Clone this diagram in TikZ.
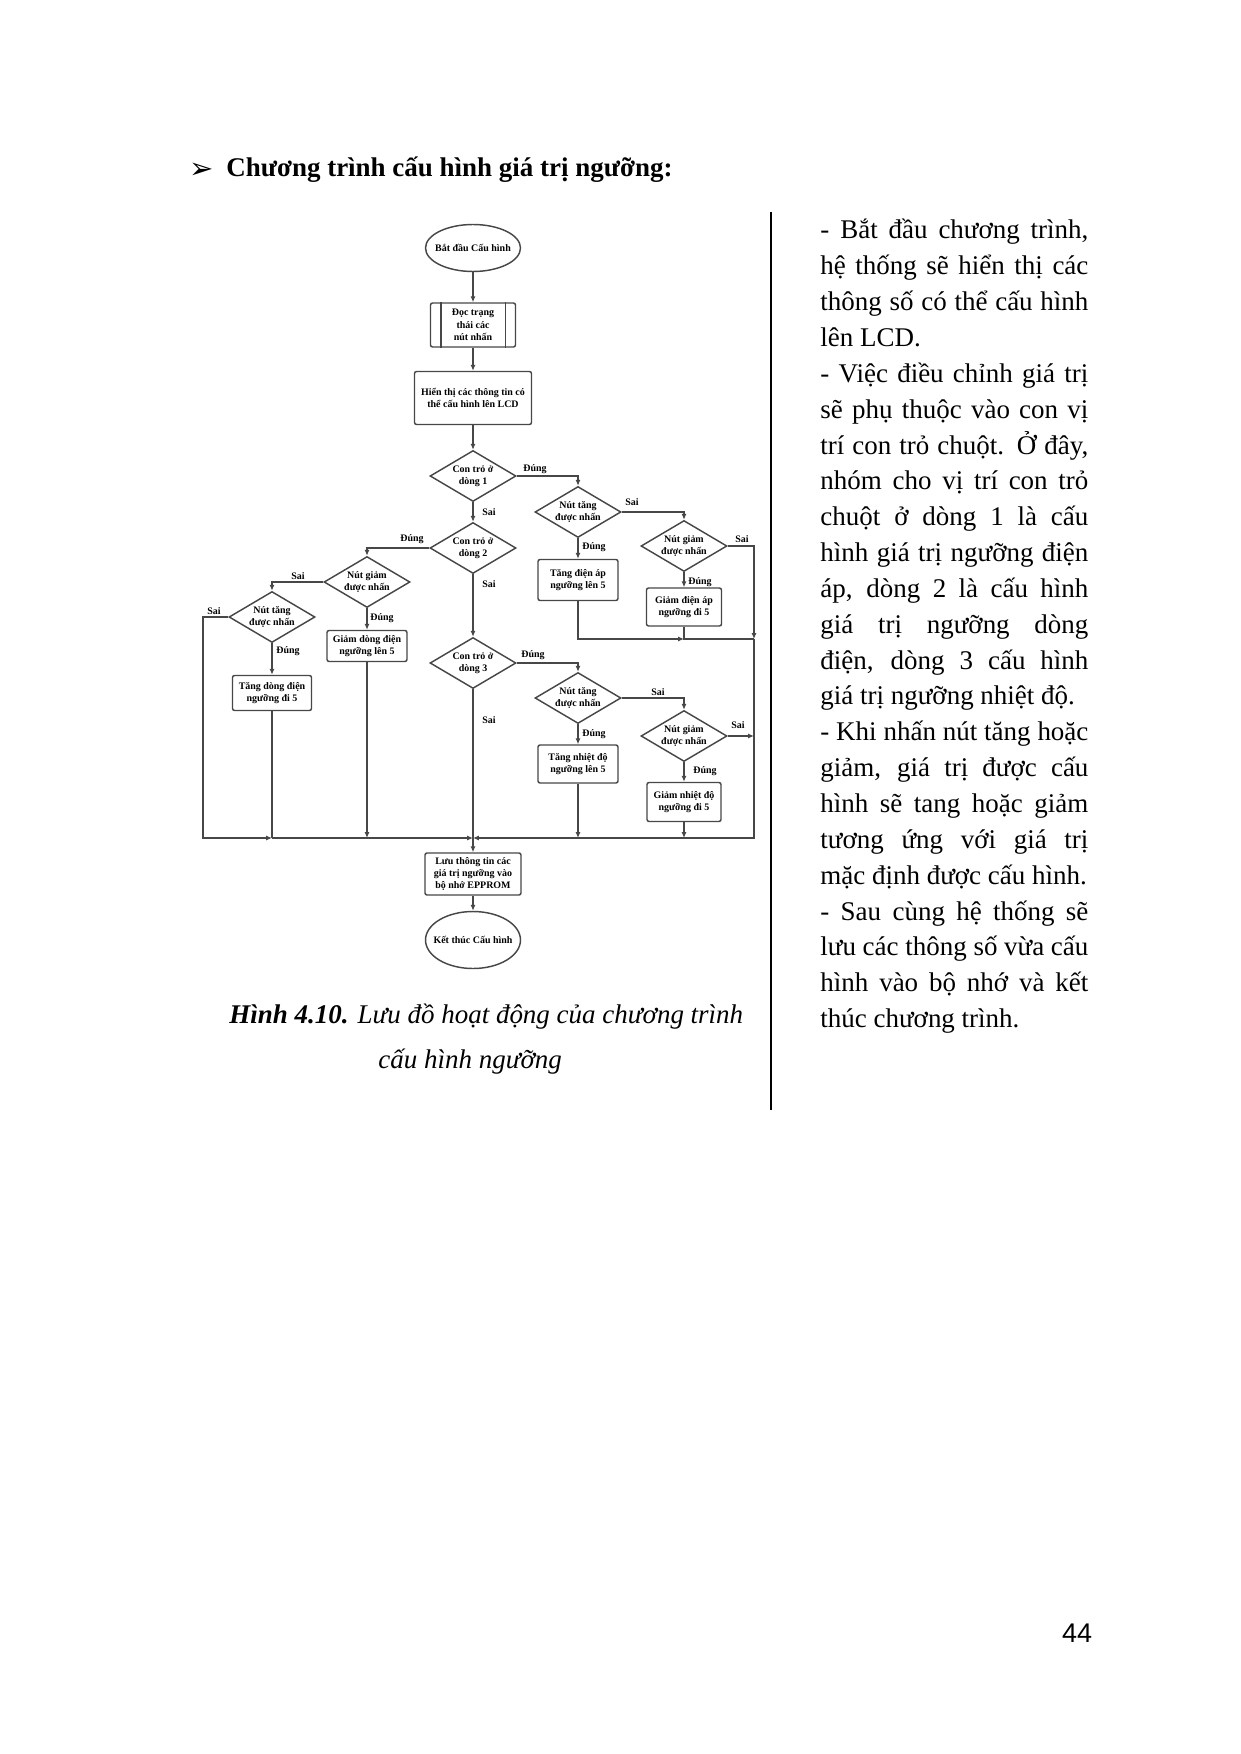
\documentclass[tikz,border=0pt]{standalone}
\usepackage{fontspec}
\setmainfont{Liberation Serif}
\newfontfamily\symfont{DejaVu Sans}
\newfontfamily\numfont{Liberation Sans}
\usetikzlibrary{arrows.meta,shapes.geometric}
\newlength\pxu
\setlength\pxu{0.4818pt}

\begin{document}
\begin{tikzpicture}[x=0.4818pt,y=-0.4818pt,>={Latex[length=2.8pt,width=2.4pt]}]
  \tikzstyle{fc}=[font=\fontsize{4.8}{6}\selectfont\bfseries,align=center,draw=black!72,line width=0.7pt]
  \tikzstyle{term}=[fc,ellipse,inner xsep=-4pt,inner ysep=0pt,minimum width=95\pxu,minimum height=47\pxu]
  \tikzstyle{proc}=[fc,rectangle,rounded corners=1pt,inner sep=1pt]
  \tikzstyle{dec}=[fc,diamond,shape aspect=1.7,inner sep=0pt,minimum width=86\pxu,minimum height=51\pxu]
  \tikzstyle{lbl}=[font=\fontsize{4.8}{6}\selectfont\bfseries,inner sep=0pt]
  \tikzstyle{wire}=[draw=black!72,line width=0.7pt]
  \useasboundingbox (0,0) rectangle (1240,1754);

  % heading and page text
  \node[inner sep=0pt,font=\symfont\fontsize{14}{16}\selectfont] (bul) at (202,171) {➢};
  \node[anchor=base west,inner sep=0pt,font=\fontsize{13}{16}\selectfont\bfseries] (ttl) at (226,177) {Chương trình cấu hình giá trị ngưỡng:};
  \draw[line width=1.1pt] (771,212) -- (771,1110);
  \node[anchor=base west,inner sep=0pt,text width=268\pxu,align=justify,font=\fontsize{13}{17.27}\selectfont] (txt) at (820,239) {\parindent=0pt\tolerance=10000\hyphenpenalty=10000
    - Bắt đầu chương trình,\linebreak hệ thống sẽ hiển thị các\linebreak thông số có thể cấu hình\linebreak lên LCD.\par
    - Việc điều chỉnh giá trị\linebreak sẽ phụ thuộc vào con vị\linebreak trí con trỏ chuột. Ở đây,\linebreak nhóm cho vị trí con trỏ\linebreak chuột ở dòng 1 là cấu\linebreak hình giá trị ngưỡng điện\linebreak áp, dòng 2 là cấu hình\linebreak giá trị ngưỡng dòng\linebreak điện, dòng 3 cấu hình\linebreak giá trị ngưỡng nhiệt độ.\par
    - Khi nhấn nút tăng hoặc\linebreak giảm, giá trị được cấu\linebreak hình sẽ tang hoặc giảm\linebreak tương ứng với giá trị\linebreak mặc định được cấu hình.\par
    - Sau cùng hệ thống sẽ\linebreak lưu các thông số vừa cấu\linebreak hình vào bộ nhớ và kết\linebreak thúc chương trình.\par};
  \node[anchor=base west,inner sep=0pt,font=\fontsize{13}{16}\selectfont\itshape] (cap1) at (229,1023) {\textbf{Hình 4.10.} Lưu đồ hoạt động của chương trình};
  \node[anchor=base west,inner sep=0pt,font=\fontsize{13}{16}\selectfont\itshape] (cap2) at (378,1068) {cấu hình ngưỡng};
  \node[inner sep=0pt,font=\numfont\fontsize{13}{16}\selectfont] (pg) at (1077,1633) {44};

  % main column
  \node[term] (st) at (473,248) {Bắt đầu Cấu hình};
  \node[proc,minimum width=85\pxu,minimum height=44\pxu] (rd) at (473,325) {Đọc trạng\\thái các\\nút nhấn};
  \draw[wire] ([xshift=11\pxu]rd.north west) -- ([xshift=11\pxu]rd.south west);
  \draw[wire] ([xshift=-11\pxu]rd.north east) -- ([xshift=-11\pxu]rd.south east);
  \node[proc,minimum width=117\pxu,minimum height=53\pxu] (lcd) at (473,398) {Hiển thị các thông tin có\\thể cấu hình lên LCD};
  \node[dec] (d1) at (473,476) {Con trỏ ở\\dòng 1};
  \node[dec] (d2) at (473,548) {Con trỏ ở\\dòng 2};
  \node[dec] (d3) at (473,663) {Con trỏ ở\\dòng 3};
  \node[proc,minimum width=96\pxu,minimum height=42\pxu] (sv) at (473,874) {Lưu thông tin các\\giá trị ngưỡng vào\\bộ nhớ EPPROM};
  \node[term,minimum height=57\pxu] (kt) at (473,940) {Kết thúc Cấu hình};

  % right branches
  \node[dec] (r1) at (578,512) {Nút tăng\\được nhấn};
  \node[dec] (r2) at (684,546) {Nút giảm\\được nhấn};
  \node[proc,minimum width=80\pxu,minimum height=41\pxu] (b1) at (578,580) {Tăng điện áp\\ngưỡng lên 5};
  \node[proc,minimum width=75\pxu,minimum height=38\pxu] (b2) at (684,607) {Giảm điện áp\\ngưỡng đi 5};
  \node[dec] (r3) at (578,698) {Nút tăng\\được nhấn};
  \node[dec] (r4) at (684,736) {Nút giảm\\được nhấn};
  \node[proc,minimum width=80\pxu,minimum height=38\pxu] (b3) at (578,764) {Tăng nhiệt độ\\ngưỡng lên 5};
  \node[proc,minimum width=74\pxu,minimum height=39\pxu] (b4) at (684,802) {Giảm nhiệt độ\\ngưỡng đi 5};

  % left branches
  \node[dec] (l2) at (367,582) {Nút giảm\\được nhấn};
  \node[dec] (l1) at (272,617) {Nút tăng\\được nhấn};
  \node[proc,minimum width=80\pxu,minimum height=31\pxu] (b5) at (367,646) {Giảm dòng điện\\ngưỡng lên 5};
  \node[proc,minimum width=79\pxu,minimum height=35\pxu] (b6) at (272,693) {Tăng dòng điện\\ngưỡng đi 5};

  \coordinate (ja) at (754,639);
  \coordinate (jb) at (684,639);
  \coordinate (jd) at (754,736);
  \coordinate (jr) at (754,838);
  \coordinate (jc) at (473,838);
  \coordinate (je) at (578,838);
  \coordinate (jf) at (684,838);
  \coordinate (jm) at (367,838);
  \coordinate (jl) at (272,838);
  \coordinate (ll) at (203,838);

  \draw[wire,->] (st) -- (rd);
  \draw[wire,->] (rd) -- (lcd);
  \draw[wire,->] (lcd) -- (d1);
  \draw[wire,->] (d1) -- (d2);
  \draw[wire,->] (d2) -- (d3);
  \draw[wire,->] (d3) -- (sv);
  \draw[wire,->] (sv) -- (kt);

  \draw[wire,->] (d1.east) -| (r1.north);
  \draw[wire,->] (r1.east) -| (r2.north);
  \draw[wire,->] (r1) -- (b1);
  \draw[wire,->] (r2) -- (b2);
  \draw[wire,->] (r2.east) -| (ja);
  \draw[wire,->] (b1.south) |- (jb);
  \draw[wire] (b2) -- (jb) -- (ja);
  \draw[wire,->] (ja) -- (jr) -- (jc);
  \draw[wire,->] (d3.east) -| (r3.north);
  \draw[wire,->] (r3.east) -| (r4.north);
  \draw[wire,->] (r3) -- (b3);
  \draw[wire,->] (r4) -- (b4);
  \draw[wire,->] (r4.east) -- (jd);
  \draw[wire,->] (b3) -- (je);
  \draw[wire,->] (b4) -- (jf);

  \draw[wire,->] (d2.west) -| (l2.north);
  \draw[wire,->] (l2.west) -| (l1.north);
  \draw[wire,->] (l2) -- (b5);
  \draw[wire,->] (l1) -- (b6);
  \draw[wire,->] (l1.west) -| (ll) -- (jl);
  \draw[wire] (b6) -- (jl);
  \draw[wire,->] (jl) -- (jc);
  \draw[wire,->] (b5) -- (jm);

  % branch labels
  \node[lbl] (y1) at (535,469) {Đúng};
  \node[lbl] (n1) at (489,512) {Sai};
  \node[lbl] (y2) at (412,539) {Đúng};
  \node[lbl] (n2) at (489,584) {Sai};
  \node[lbl] (y3) at (533,655) {Đúng};
  \node[lbl] (n3) at (489,720) {Sai};
  \node[lbl] (nr1) at (632,502) {Sai};
  \node[lbl] (yr1) at (594,547) {Đúng};
  \node[lbl] (nr2) at (742,539) {Sai};
  \node[lbl] (yr2) at (700,582) {Đúng};
  \node[lbl] (nr3) at (658,692) {Sai};
  \node[lbl] (yr3) at (594,734) {Đúng};
  \node[lbl] (nr4) at (738,725) {Sai};
  \node[lbl] (yr4) at (705,771) {Đúng};
  \node[lbl] (nl2) at (298,576) {Sai};
  \node[lbl] (yl2) at (382,618) {Đúng};
  \node[lbl] (nl1) at (214,611) {Sai};
  \node[lbl] (yl1) at (288,651) {Đúng};
\end{tikzpicture}
\end{document}
